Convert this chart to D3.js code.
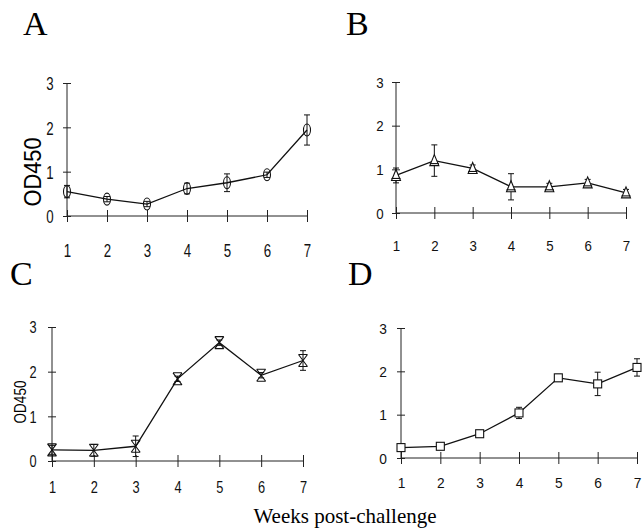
<!DOCTYPE html>
<html>
<head>
<meta charset="utf-8">
<script src="https://cdn.jsdelivr.net/npm/d3@7"></script>
<style>
  body { margin: 0; background: #fff; }
  svg { display: block; }
</style>
</head>
<body>
<div id="chart"></div>
<script>
// weeks post-challenge, OD450 means and error bars
var weeks = [1, 2, 3, 4, 5, 6, 7];
var yTicks = [0, 1, 2, 3];

var odA  = [0.55, 0.38, 0.27, 0.62, 0.75, 0.93, 1.94];
var errA = [0.14, 0.06, 0.06, 0.12, 0.20, 0.06, 0.34];

var odB  = [0.86, 1.20, 1.02, 0.60, 0.60, 0.69, 0.46];
var errB = [0.17, 0.36, 0.08, 0.30, 0.08, 0.08, 0.08];

var odC  = [0.25, 0.24, 0.33, 1.84, 2.65, 1.92, 2.25];
var errC = [0.10, 0.13, 0.23, 0.06, 0.06, 0.06, 0.22];

var odD  = [0.24, 0.27, 0.56, 1.04, 1.85, 1.71, 2.09];
var errD = [0.05, 0.06, 0.06, 0.13, 0.08, 0.27, 0.20];

var W = 644, H = 528;

var svg = d3.select("#chart")
  .append("svg")
    .attr("width", W)
    .attr("height", H);

var sans = "'Liberation Sans', Arial, sans-serif";

// A and C use a condensed face, faked with a horizontal squeeze (sq)
var panels = [
  {letter: "A", lx: 23, ly: 35, od: odA, err: errA, marker: "ellipse",
   x0: 67, x1: 307, y0: 216, y3: 83, xLabY: 257, yLabX: 50,
   fs: 19, sq: 0.7, ylab: [33, 172], lfs: 23, lsq: 0.95},
  {letter: "B", lx: 346, ly: 35, od: odB, err: errB, marker: "triangle",
   x0: 396, x1: 626, y0: 213, y3: 82, xLabY: 251, yLabX: 380,
   fs: 14, sq: 0.95, ylab: null},
  {letter: "C", lx: 10, ly: 285, od: odC, err: errC, marker: "cross",
   x0: 52, x1: 303, y0: 461, y3: 327, xLabY: 493, yLabX: 33,
   fs: 16, sq: 0.8, ylab: [20, 402], lfs: 16.5, lsq: 0.82},
  {letter: "D", lx: 348, ly: 285, od: odD, err: errD, marker: "square",
   x0: 401, x1: 637, y0: 458, y3: 328, xLabY: 488, yLabX: 383,
   fs: 14.5, sq: 0.95, ylab: null}
];

panels.forEach(function(p) {
  var x = d3.scaleLinear().domain([1, 7]).range([p.x0, p.x1]);
  var y = d3.scaleLinear().domain([0, 3]).range([p.y0, p.y3]);
  var g = svg.append("g");

  // panel letter
  svg.append("text")
    .attr("x", p.lx)
    .attr("y", p.ly)
    .style("font-family", "'Liberation Serif', 'Times New Roman', serif")
    .style("font-size", "34px")
    .text(p.letter);

  // x axis with ticks crossing the line
  var xg = g.append("g")
    .attr("transform", "translate(0," + p.y0 + ")")
    .call(d3.axisBottom(x).tickValues(weeks).tickSize(6).tickFormat(d3.format("d")));
  xg.select(".domain").attr("d", "M" + p.x0 + ",0H" + p.x1).attr("stroke", "#222");
  xg.selectAll(".tick line").attr("y1", -6).attr("y2", 6).attr("stroke", "#222");
  xg.selectAll(".tick text")
    .attr("y", p.xLabY - p.y0)
    .attr("dy", null)
    .attr("transform", "scale(" + p.sq + ",1)")
    .style("font-family", sans)
    .style("font-size", p.fs + "px")
    .attr("fill", "#111");

  // y axis
  var yg = g.append("g")
    .attr("transform", "translate(" + p.x0 + ",0)")
    .call(d3.axisLeft(y).tickValues(yTicks).tickSize(4).tickFormat(d3.format("d")));
  yg.select(".domain").attr("d", "M0," + p.y0 + "V" + p.y3).attr("stroke", "#222");
  yg.selectAll(".tick line").attr("x1", -4).attr("x2", 4).attr("stroke", "#222");
  yg.selectAll(".tick text")
    .attr("text-anchor", "middle")
    .attr("x", (p.yLabX - p.x0) / p.sq)
    .attr("dy", "0.36em")
    .attr("transform", "scale(" + p.sq + ",1)")
    .style("font-family", sans)
    .style("font-size", p.fs + "px")
    .attr("fill", "#111");

  if (p.ylab) {
    svg.append("text")
      .attr("transform", "translate(" + p.ylab[0] + "," + p.ylab[1] + ") rotate(-90) scale(" + p.lsq + ",1)")
      .attr("text-anchor", "middle")
      .attr("dy", "0.36em")
      .style("font-family", sans)
      .style("font-size", p.lfs + "px")
      .text("OD450");
  }

  var pts = weeks.map(function(w, i) { return {w: w, v: p.od[i], e: p.err[i]}; });

  // connecting line
  g.append("path")
    .datum(pts)
    .attr("fill", "none")
    .attr("stroke", "#111")
    .attr("stroke-width", 1.3)
    .attr("d", d3.line().x(function(d) { return x(d.w); }).y(function(d) { return y(d.v); }));

  // error bars
  var eb = g.append("g").selectAll("g").data(pts).enter().append("g")
    .attr("stroke", "#111").attr("stroke-width", 1);
  eb.append("line")
    .attr("x1", function(d) { return x(d.w); })
    .attr("x2", function(d) { return x(d.w); })
    .attr("y1", function(d) { return y(d.v - d.e); })
    .attr("y2", function(d) { return y(d.v + d.e); });
  eb.append("line")
    .attr("x1", function(d) { return x(d.w) - 3; })
    .attr("x2", function(d) { return x(d.w) + 3; })
    .attr("y1", function(d) { return y(d.v + d.e); })
    .attr("y2", function(d) { return y(d.v + d.e); });
  eb.append("line")
    .attr("x1", function(d) { return x(d.w) - 3; })
    .attr("x2", function(d) { return x(d.w) + 3; })
    .attr("y1", function(d) { return y(d.v - d.e); })
    .attr("y2", function(d) { return y(d.v - d.e); });

  // markers
  var m = g.append("g").selectAll("g").data(pts).enter().append("g")
    .attr("transform", function(d) { return "translate(" + x(d.w) + "," + y(d.v) + ")"; })
    .attr("stroke", "#111")
    .attr("stroke-width", 1.1)
    .attr("fill", "none");

  if (p.marker === "ellipse") {
    m.append("ellipse").attr("rx", 3.5).attr("ry", 6).attr("fill", "none");
  } else if (p.marker === "triangle") {
    m.append("path").attr("d", "M0,-6L4.5,5H-4.5Z").attr("fill", "#fff");
    m.append("line").attr("x1", -4.5).attr("x2", 4.5).attr("y1", 3).attr("y2", 3);
  } else if (p.marker === "cross") {
    m.append("path").attr("d", "M-4.5,-6L4.5,6M4.5,-6L-4.5,6M-4.5,-6H4.5M-4.5,6H4.5");
  } else if (p.marker === "square") {
    m.append("rect").attr("x", -4).attr("y", -4).attr("width", 8).attr("height", 8).attr("fill", "#fff");
  }
});

// shared x label
svg.append("text")
  .attr("x", 345)
  .attr("y", 523)
  .attr("text-anchor", "middle")
  .style("font-family", "'Liberation Serif', 'Times New Roman', serif")
  .style("font-size", "21px")
  .text("Weeks post-challenge");
</script>
</body>
</html>
